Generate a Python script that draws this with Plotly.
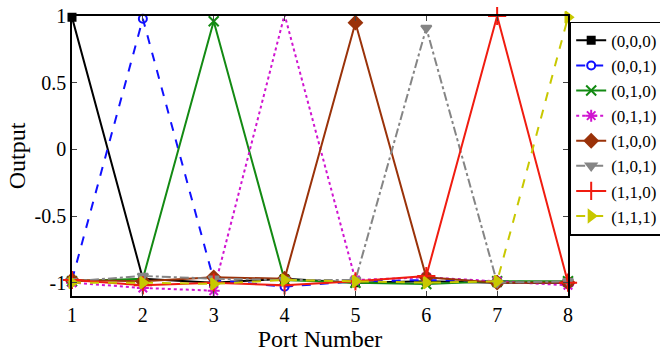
import plotly.graph_objects as go

# Port indices on the horizontal axis
ports = [1, 2, 3, 4, 5, 6, 7, 8]

# Output level at each port for every 3-bit input code
out_000 = [0.99, -0.97, -1.00, -0.97, -1.00, -0.99, -1.00, -1.00]
out_001 = [-0.98, 0.98, -0.98, -1.03, -0.99, -0.98, -0.99, -1.00]
out_010 = [-0.99, -0.97, 0.96, -0.98, -1.00, -1.01, -0.99, -0.99]
out_011 = [-1.00, -1.04, -1.06, 1.01, -0.98, -0.96, -0.99, -1.02]
out_100 = [-0.98, -0.99, -0.96, -0.97, 0.95, -0.96, -1.00, -1.00]
out_101 = [-0.99, -0.95, -0.97, -0.98, -0.98, 0.91, -1.00, -0.99]
out_110 = [-0.98, -1.02, -1.00, -1.02, -0.99, -0.95, 1.00, -1.00]
out_111 = [-1.00, -1.00, -1.01, -0.98, -0.99, -1.00, -0.99, 0.99]

codes = ["(0,0,0)", "(0,0,1)", "(0,1,0)", "(0,1,1)",
         "(1,0,0)", "(1,0,1)", "(1,1,0)", "(1,1,1)"]

y_tick_vals = [-1, -0.5, 0, 0.5, 1]
y_tick_text = ["-1", "-0.5", "0", "0.5", "1"]

series = [out_000, out_001, out_010, out_011, out_100, out_101, out_110, out_111]
colors = ["#000000", "#1010ff", "#138a13", "#d014d0",
          "#9a3209", "#858585", "#f01c10", "#c8c800"]
dashes = ["solid", "dash", "solid", "dot", "solid", "dashdot", "solid", "dash"]
symbols = ["square", "circle-open", "x-thin-open", "asterisk-open",
           "diamond", "triangle-down", "cross-thin-open", "triangle-right"]
sizes = [7, 8, 10, 10, 10, 9, 13, 10]

font_family = "Liberation Serif"

fig = go.Figure()
for vals, name, c, d, s, sz in zip(series, codes, colors, dashes, symbols, sizes):
    fig.add_trace(go.Scatter(
        x=ports, y=vals, name=name, mode="lines+markers", cliponaxis=False,
        line=dict(color=c, width=2, dash=d),
        marker=dict(symbol=s, size=sz, color=c, line=dict(color=c, width=2)),
    ))

axis_common = dict(
    showline=True, linecolor="black", linewidth=1.5, mirror="ticks",
    ticks="inside", ticklen=5, tickcolor="#444", tickwidth=1,
    showgrid=False, zeroline=False,
    tickfont=dict(family=font_family, size=20, color="black"),
)

fig.update_xaxes(range=[1, 8], tickvals=ports,
                 title=dict(text="Port Number", standoff=2,
                            font=dict(family=font_family, size=24, color="black")),
                 **axis_common)
fig.update_yaxes(range=[-1.1, 1.0], tickvals=y_tick_vals, ticktext=y_tick_text,
                 title=dict(text="Output", standoff=2,
                            font=dict(family=font_family, size=24, color="black")),
                 **axis_common)

fig.update_layout(
    width=660, height=352,
    margin=dict(l=72, r=92, t=16, b=56, autoexpand=False),
    plot_bgcolor="white", paper_bgcolor="white",
    font=dict(family=font_family),
    showlegend=True,
    legend=dict(x=1.004, y=0.98, xanchor="left", yanchor="top",
                bordercolor="black", borderwidth=1.2, bgcolor="white",
                font=dict(family=font_family, size=17, color="black"),
                tracegroupgap=0, itemwidth=30),
)

fig.write_html("out.html")
